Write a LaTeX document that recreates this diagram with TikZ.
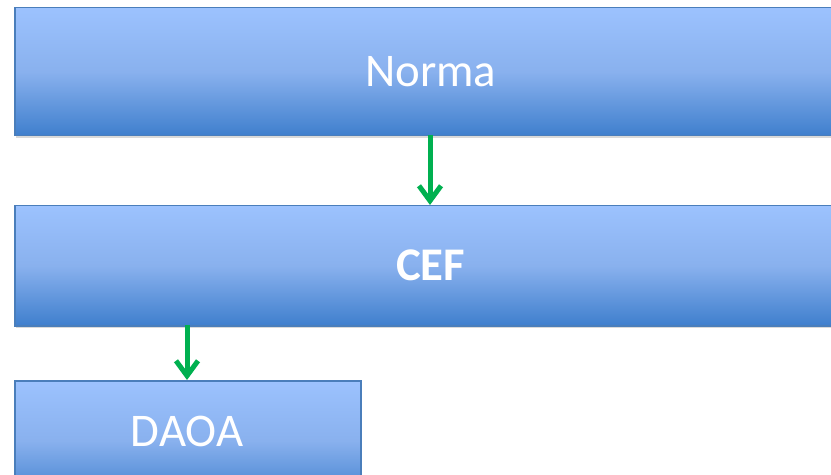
\documentclass[tikz,border=0pt]{standalone}
\usepackage{fontspec}
\setmainfont{Carlito}
\usetikzlibrary{arrows.meta}
\definecolor{boxtop}{HTML}{9CC2FE}
\definecolor{boxmid}{HTML}{89B1EE}
\definecolor{boxbot}{HTML}{3F7FCD}
\definecolor{boxline}{HTML}{4A7EBB}
\definecolor{flow}{HTML}{00B050}
\tikzset{
  blockbox/.style={draw=boxline, line width=1.5bp, rectangle, inner sep=0pt,
    top color=boxtop, bottom color=boxbot, middle color=boxmid,
    text=white, font=\fontsize{47}{52}\selectfont},
  flowarrow/.style={draw=flow, line width=5bp,
    -{Straight Barb[length=15bp,width=22bp,line width=5bp]}}
}
\begin{document}
\begin{tikzpicture}[x=1bp,y=-1bp]
  \useasboundingbox (0,0) rectangle (831,475);
  \fill[black!15] (16,136) rectangle (840,138);
  \fill[black!15] (16,326) rectangle (840,328);
  \node[blockbox, minimum width=832bp, minimum height=128bp, anchor=north west] (norma) at (14,7) {Norma};
  \node[blockbox, minimum width=832bp, minimum height=120bp, anchor=north west] (cef) at (14,205) {\bfseries CEF};
  \node[blockbox, minimum width=346bp, minimum height=120bp, anchor=north west] (daoa) at (14,380) {};
  \node[text=white, font=\fontsize{47}{52}\selectfont] (daoatext) at (187,431) {DAOA};
  \coordinate (a1) at (430,135);
  \coordinate (b1) at (430,205);
  \coordinate (a2) at (187,325);
  \coordinate (b2) at (187,380);
  \draw[flowarrow] (a1) -- (b1);
  \draw[flowarrow] (a2) -- (b2);
\end{tikzpicture}
\end{document}
